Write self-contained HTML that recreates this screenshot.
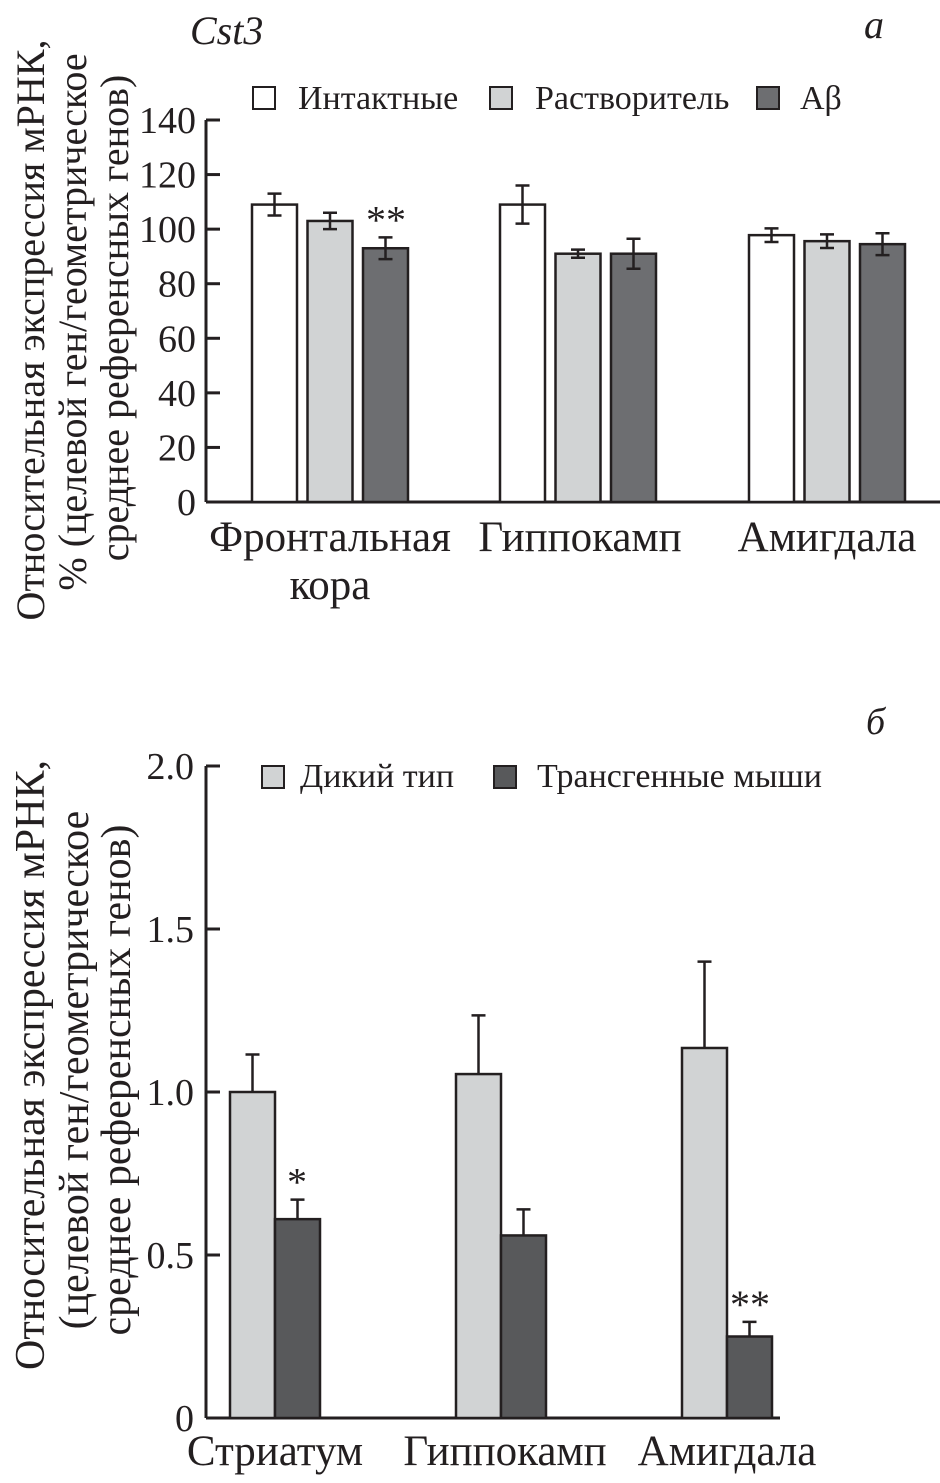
<!DOCTYPE html>
<html><head><meta charset="utf-8"><style>
body{margin:0;background:#fff}
svg text{font-family:"Liberation Serif",serif;fill:#231f20}
</style></head><body>
<svg width="940" height="1478" xmlns="http://www.w3.org/2000/svg">
<g id="top"></g>
<g id="bot"></g>
<text x="190" y="44" font-size="40" font-style="italic">Cst3</text>
<text x="864" y="38" font-size="40" font-style="italic">a</text>
<text x="866" y="734" font-size="38" font-style="italic">б</text>
<g font-size="40">
<text transform="translate(44,330) rotate(-90)" text-anchor="middle">Относительная экспрессия мРНК,</text>
<text transform="translate(86,322) rotate(-90)" text-anchor="middle">% (целевой ген/геометрическое</text>
<text transform="translate(128,318) rotate(-90)" text-anchor="middle">среднее референсных генов)</text>
</g>
<g font-size="42">
<text transform="translate(44,1065) rotate(-90)" text-anchor="middle">Относительная экспрессия мРНК,</text>
<text transform="translate(88,1070) rotate(-90)" text-anchor="middle">(целевой ген/геометрическое</text>
<text transform="translate(130,1080) rotate(-90)" text-anchor="middle">среднее референсных генов)</text>
</g>
<g font-size="34">
<rect x="253" y="87" width="22" height="22" fill="#fff" stroke="#231f20" stroke-width="2"/><text x="298" y="109">Интактные</text>
<rect x="490" y="87" width="22" height="22" fill="#d1d3d4" stroke="#231f20" stroke-width="2"/><text x="535" y="109">Растворитель</text>
<rect x="757" y="87" width="22" height="22" fill="#6d6e71" stroke="#231f20" stroke-width="2"/><text x="800" y="109">Aβ</text>
</g>
<g font-size="34">
<rect x="262" y="766" width="22" height="22" fill="#d1d3d4" stroke="#231f20" stroke-width="2"/><text x="300" y="787">Дикий тип</text>
<rect x="494" y="766" width="22" height="22" fill="#58595b" stroke="#231f20" stroke-width="2"/><text x="537" y="787">Трансгенные мыши</text>
</g>
<script>
const catsA=["Фронтальная|кора","Гиппокамп","Амигдала"];
const intact=[109,109,97.8];
const intactErr=[4,7,2.5];
const vehicle=[103,91,95.6];
const vehicleErr=[3,1.5,2.5];
const abeta=[93,91,94.5];
const abetaErr=[4,5.5,4];
const ticksA=[0,20,40,60,80,100,120,140];
const catsB=["Стриатум","Гиппокамп","Амигдала"];
const wild=[1.0,1.055,1.135];
const wildErr=[0.115,0.18,0.265];
const tg=[0.61,0.56,0.25];
const tgErr=[0.06,0.08,0.045];
const ticksB=[0,0.5,1.0,1.5,2.0];
const ticksBLabels=["0","0.5","1.0","1.5","2.0"];
const NS="http://www.w3.org/2000/svg";
function mk(p,t,a){const e=document.createElementNS(NS,t);for(const k in a)e.setAttribute(k,a[k]);p.appendChild(e);return e;}
// chart A
const gA=document.getElementById('top');
const yA=v=>502-v*(382/140);
const ax0=206;
mk(gA,'line',{x1:ax0,y1:yA(140),x2:ax0,y2:502,stroke:'#231f20','stroke-width':3});
mk(gA,'line',{x1:ax0,y1:502,x2:940,y2:502,stroke:'#231f20','stroke-width':3});
ticksA.forEach(t=>{mk(gA,'line',{x1:ax0,y1:yA(t),x2:ax0+14,y2:yA(t),stroke:'#231f20','stroke-width':3});
const tx=mk(gA,'text',{x:ax0-10,y:yA(t)+13,'text-anchor':'end','font-size':38});tx.textContent=t;

});
const groupXA=[252,500,749];
const labelMidA=[330,580,827];
const seriesA=[[intact,intactErr,'#fff'],[vehicle,vehicleErr,'#d1d3d4'],[abeta,abetaErr,'#6d6e71']];
catsA.forEach((c,i)=>{
 seriesA.forEach((s,j)=>{
  const x=groupXA[i]+j*55.5,w=45,v=s[0][i],e=s[1][i];
  const r=mk(gA,'rect',{x:x,y:yA(v),width:w,height:502-yA(v),fill:s[2],stroke:'#231f20','stroke-width':2.5});
  
  
  const cx=x+w/2;
  mk(gA,'path',{d:`M${cx},${yA(v+e)}V${yA(v-e)}M${cx-7},${yA(v+e)}h14M${cx-7},${yA(v-e)}h14`,stroke:'#231f20','stroke-width':2.5,fill:'none'});
 });
 const lines=c.split('|');
 lines.forEach((l,k)=>{const t=mk(gA,'text',{x:labelMidA[i],y:551+k*48,'text-anchor':'middle','font-size':43});t.textContent=l;
 
 });
});
const sA=mk(gA,'text',{x:386,y:yA(abeta[0]+abetaErr[0])-4,'text-anchor':'middle','font-size':40});sA.textContent='**';
// chart B
const gB=document.getElementById('bot');
const yB=v=>1418-v*(652/2);
mk(gB,'line',{x1:ax0,y1:yB(2),x2:ax0,y2:1418,stroke:'#231f20','stroke-width':3});
mk(gB,'line',{x1:ax0,y1:1418,x2:780,y2:1418,stroke:'#231f20','stroke-width':3});
ticksB.forEach((t,i)=>{mk(gB,'line',{x1:ax0,y1:yB(t),x2:ax0+14,y2:yB(t),stroke:'#231f20','stroke-width':3});
const tx=mk(gB,'text',{x:ax0-12,y:yB(t)+13,'text-anchor':'end','font-size':38});tx.textContent=ticksBLabels[i];

});
const groupXB=[230,456,682];
const labelMidB=[275,505,727];
const seriesB=[[wild,wildErr,'#d1d3d4'],[tg,tgErr,'#58595b']];
catsB.forEach((c,i)=>{
 seriesB.forEach((s,j)=>{
  const x=groupXB[i]+j*45,w=45,v=s[0][i],e=s[1][i];
  const r=mk(gB,'rect',{x:x,y:yB(v),width:w,height:1418-yB(v),fill:s[2],stroke:'#231f20','stroke-width':2.5});
  
  
  const cx=x+w/2;
  mk(gB,'path',{d:`M${cx},${yB(v+e)}V${yB(v)}M${cx-7},${yB(v+e)}h14`,stroke:'#231f20','stroke-width':2.5,fill:'none'});
 });
 const t=mk(gB,'text',{x:labelMidB[i],y:1465,'text-anchor':'middle','font-size':43});t.textContent=c;
 
 
});
const s1=mk(gB,'text',{x:297,y:yB(tg[0]+tgErr[0])-4,'text-anchor':'middle','font-size':40});s1.textContent='*';
const s2=mk(gB,'text',{x:750,y:yB(tg[2]+tgErr[2])-4,'text-anchor':'middle','font-size':40});s2.textContent='**';
</script>
</svg>
</body></html>
